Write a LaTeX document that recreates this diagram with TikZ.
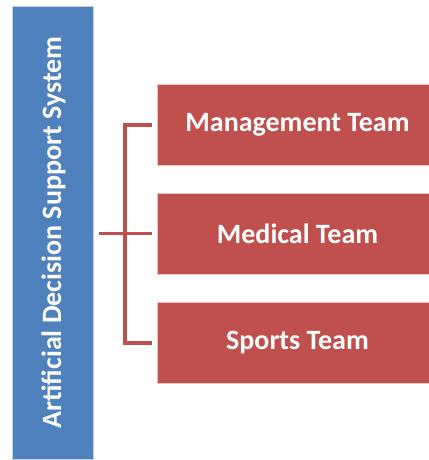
\documentclass[tikz,border=0pt]{standalone}
\usepackage{fontspec}
\setmainfont{Carlito}
\usetikzlibrary{positioning}
\definecolor{sysblue}{HTML}{4F81BD}
\definecolor{teamred}{HTML}{C0504D}

\begin{document}
\begin{tikzpicture}[x=1pt,y=-1pt,
	team/.style={fill=teamred,draw=teamred!35!white,line width=0.6pt,minimum width=281pt,minimum height=81pt,inner sep=0pt,text=white,font=\bfseries\fontsize{28}{32}\selectfont},
	link/.style={draw=teamred,line width=3.5pt}]
	\useasboundingbox (0,0) rectangle (428,460);
	% system bar
	\node[fill=sysblue,draw=sysblue!35!white,line width=0.6pt,minimum width=81pt,minimum height=453pt,inner sep=0pt] (sys) at (52.5,232.5) {};
	\node[rotate=90,text=white,font=\bfseries\fontsize{28}{32}\selectfont] (sysname) at ([xshift=1pt]sys.center) {Artificial Decision Support System};
	% teams
	\node[team] (mgmt) at (297.5,125) {Management Team};
	\node[team] (med) at (297.5,233.5) {Medical Team};
	\node[team] (sports) at (297.5,343) {Sports Team};
	% bracket
	\coordinate (spine) at (125,233.5);
	\draw[link] ([xshift=6pt]sys.east |- med.west) -- ([xshift=-5pt]med.west);
	\draw[link] ([xshift=-5pt]mgmt.west) -| (spine) |- ([xshift=-5pt]sports.west);
\end{tikzpicture}
\end{document}
